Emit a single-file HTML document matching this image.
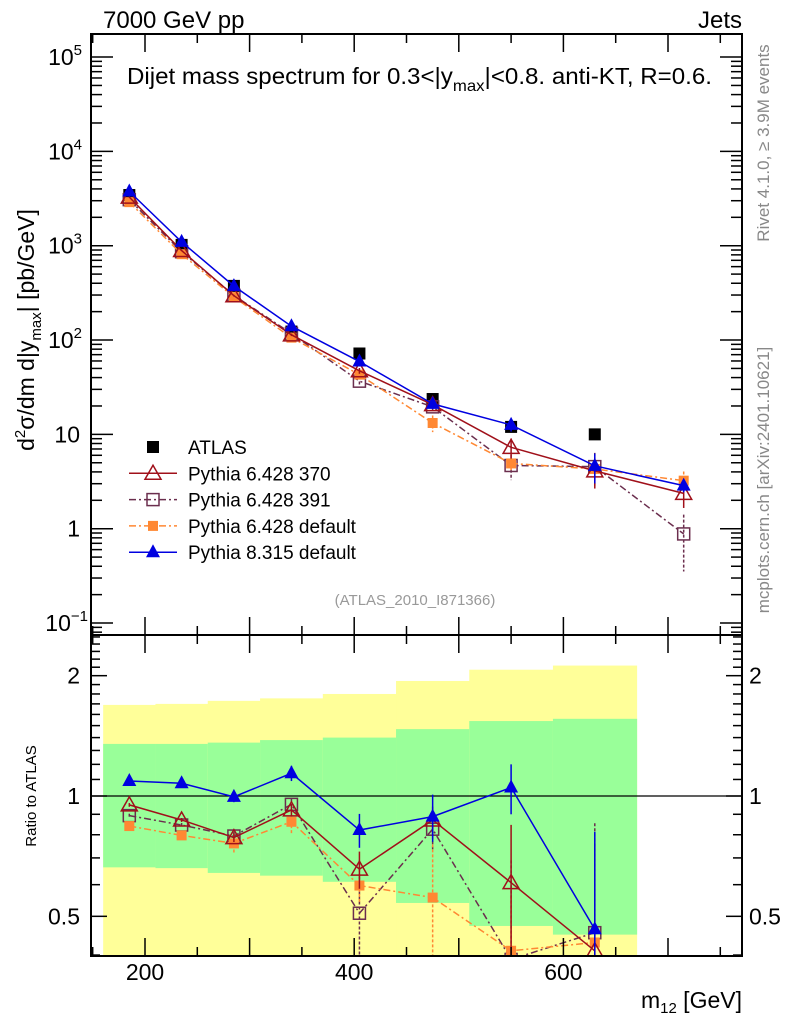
<!DOCTYPE html>
<html><head><meta charset="utf-8"><style>
html,body{margin:0;padding:0;background:#fff}
svg{display:block;font-family:"Liberation Sans",sans-serif}
</style></head><body>
<svg id="c" width="786" height="1024" viewBox="0 0 786 1024" xmlns="http://www.w3.org/2000/svg">
<text x="103" y="28" font-size="24">7000 GeV pp</text>
<text x="742" y="28" font-size="24" text-anchor="end">Jets</text>
<text x="127" y="84" font-size="23" textLength="585" lengthAdjust="spacingAndGlyphs">Dijet mass spectrum for 0.3&lt;|y<tspan font-size="16" dy="7">max</tspan><tspan dy="-7">|&lt;0.8.  anti-KT, R=0.6.</tspan></text>
<text transform="translate(34,330) rotate(-90)" font-size="23" text-anchor="middle">d<tspan font-size="15" dy="-9">2</tspan><tspan dy="9">σ/dm d|y</tspan><tspan font-size="15" dy="7">max</tspan><tspan dy="-7">| [pb/GeV]</tspan></text>
<text transform="translate(769,143) rotate(-90)" font-size="17" fill="#888" text-anchor="middle">Rivet 4.1.0, ≥ 3.9M events</text>
<text transform="translate(769,480) rotate(-90)" font-size="17" fill="#888" text-anchor="middle">mcplots.cern.ch [arXiv:2401.10621]</text>
<text x="415" y="605" font-size="15" fill="#999" text-anchor="middle">(ATLAS_2010_I871366)</text>
<text transform="translate(36,796) rotate(-90)" font-size="15" text-anchor="middle">Ratio to ATLAS</text>
<text x="742" y="1008" font-size="23" text-anchor="end">m<tspan font-size="15" dy="5">12</tspan><tspan dy="-5"> [GeV]</tspan></text>
<g id="g"></g>
</svg>
<script>
const binEdges=[160,210,260,310,370,440,510,590,670,760];
const binCenters=[185,235,285,340,405,475,550,630,715];
const atlasVals=[3445,1020,375,123,72,23.7,12,10];
const ratio370=[0.95,0.871,0.787,0.923,0.656,0.871,0.607,0.41];
const ratio391=[0.893,0.846,0.794,0.953,0.509,0.826,0.39,0.455];
const ratioDef6=[0.841,0.797,0.761,0.862,0.597,0.557,0.41,0.43];
const ratioP8=[1.09,1.076,0.995,1.14,0.822,0.888,1.05,0.464];
const last370=2.37, last391=0.88, lastDef6=3.23, lastP8=2.86;
const err370=[0.01,0.01,0.02,0.03,0.07,0.07,0.24,0.35];
const err391=[0.01,0.01,0.02,0.03,0.12,0.09,0.3,0.4];
const errDef6=[0.01,0.02,0.04,0.06,0.06,0.2,0.15,0.35];
const errP8=[0.01,0.01,0.03,0.05,0.08,0.12,0.15,0.35];
const lastErr=[0.3,0.6,0.25,0.15];
const yellowTop=[1.69,1.70,1.73,1.755,1.80,1.94,2.07,2.12];
const greenTop=[1.35,1.35,1.36,1.38,1.40,1.47,1.54,1.56];
const greenBot=[0.663,0.66,0.642,0.632,0.61,0.54,0.473,0.45];
const yellowBot=[0.3,0.3,0.3,0.3,0.3,0.3,0.3,0.3];
const xTicks=[200,400,600];
const yTopTicks=[5,4,3,2,1,0,-1];
const ratioLabels=[0.5,1,2];

(function(){
const NS='http://www.w3.org/2000/svg';
const g=document.getElementById('g');
const L=91,R=742,T1=34,B1=635,B2=956;
const X=m=>145+(m-200)*1.046;
const Y1=v=>528.7-94.33*Math.log10(v);
const Y2=r=>796-399.7*Math.log10(r);
function el(t,a,p){const e=document.createElementNS(NS,t);for(const k in a)e.setAttribute(k,a[k]);(p||g).appendChild(e);return e;}
const defs=el('defs',{});
const cp1=el('clipPath',{id:'cp1'},defs);el('rect',{x:L,y:T1,width:R-L,height:B1-T1},cp1);
const cp2=el('clipPath',{id:'cp2'},defs);el('rect',{x:L,y:B1,width:R-L,height:B2-B1},cp2);
const topG=el('g',{'clip-path':'url(#cp1)'});


const botG=el('g',{'clip-path':'url(#cp2)'});



for(let i=0;i<yellowTop.length;i++){
  const x0=X(binEdges[i]),x1=X(binEdges[i+1]);
  const y=el('rect',{x:x0,y:Y2(yellowTop[i]),width:x1-x0+0.5,height:Y2(yellowBot[i])-Y2(yellowTop[i]),fill:'#ffff99'},botG);
  
  
  const gr=el('rect',{x:x0,y:Y2(greenTop[i]),width:x1-x0+0.5,height:Y2(greenBot[i])-Y2(greenTop[i]),fill:'#99ff99'},botG);
  
  
}
const one=el('line',{x1:L,x2:R,y1:Y2(1),y2:Y2(1),stroke:'#000','stroke-width':1.2},botG);



function marker(p,type,x,y,col,name){
  let e;
  if(type==='sq') e=el('rect',{x:x-6,y:y-6,width:12,height:12,fill:col},p);
  else if(type==='osq') e=el('rect',{x:x-6,y:y-6,width:12,height:12,fill:'none',stroke:col,'stroke-width':1.5},p);
  else if(type==='fsq') e=el('rect',{x:x-5,y:y-5,width:10,height:10,fill:col},p);
  else if(type==='tri') e=el('polygon',{points:`${x},${y-8} ${x-7},${y+5} ${x+7},${y+5}`,fill:col},p);
  else e=el('polygon',{points:`${x},${y-8} ${x-8},${y+6} ${x+8},${y+6}`,fill:'none',stroke:col,'stroke-width':1.5},p);
  
  
}
const series=[
 {r:ratio391,e:err391,last:last391,le:lastErr[1],col:'#6b2e4e',dash:'7,3,2,3',m:'osq',n:'pythia6-391'},
 {r:ratioDef6,e:errDef6,last:lastDef6,le:lastErr[2],col:'#ff8833',dash:'7,3,2,3',m:'fsq',n:'pythia6-default'},
 {r:ratio370,e:err370,last:last370,le:lastErr[0],col:'#a0101a',dash:'',m:'otri',n:'pythia6-370'},
 {r:ratioP8,e:errP8,last:lastP8,le:lastErr[3],col:'#0000e0',dash:'',m:'tri',n:'pythia8-default'}
];
atlasVals.forEach((v,i)=>marker(topG,'sq',X(binCenters[i]),Y1(v),'#000','atlas-point'));
series.forEach(s=>{
  const vals=s.r.map((r,i)=>r*atlasVals[i]).concat([s.last]);
  const pts=vals.map((v,i)=>X(binCenters[i])+','+Y1(v)).join(' ');
  const ln=el('polyline',{points:pts,fill:'none',stroke:s.col,'stroke-width':1.5,'stroke-dasharray':s.dash},topG);
  
  
  vals.forEach((v,i)=>{
    const fe=i<8?s.e[i]:s.le;
    const x=X(binCenters[i]);
    const eb=el('line',{x1:x,x2:x,y1:Y1(v*(1+fe)),y2:Y1(Math.max(v*(1-fe),1e-3)),stroke:s.col,'stroke-width':1.5,'stroke-dasharray':s.dash?'3,2':''},topG);
    
    
    marker(topG,s.m,x,Y1(v),s.col,s.n+'-point');
  });
  const rp=s.r.map((r,i)=>X(binCenters[i])+','+Y2(r)).join(' ');
  const rl=el('polyline',{points:rp,fill:'none',stroke:s.col,'stroke-width':1.5,'stroke-dasharray':s.dash},botG);
  
  
  s.r.forEach((r,i)=>{
    const x=X(binCenters[i]);
    const eb=el('line',{x1:x,x2:x,y1:Y2(r+s.e[i]),y2:Y2(Math.max(r-s.e[i],0.3)),stroke:s.col,'stroke-width':1.5,'stroke-dasharray':s.dash?'3,2':''},botG);
    
    
    marker(botG,s.m,x,Y2(r),s.col,s.n+'-ratio-point');
  });
});
[[T1,B1],[B1,B2]].forEach(([a,b],k)=>{
  const f=el('rect',{x:L,y:a,width:R-L,height:b-a,fill:'none',stroke:'#000','stroke-width':2});
  
  
  for(let m=150;m<=770;m+=50){
    const x=X(m);const len=m%100===0?18:9;
    el('line',{x1:x,x2:x,y1:a,y2:a+len,stroke:'#000','stroke-width':1.5});
    el('line',{x1:x,x2:x,y1:b,y2:b-len,stroke:'#000','stroke-width':1.5});
  }
});
for(let d=-2;d<=5;d++){for(let k=1;k<10;k++){
  const y=Y1(k*Math.pow(10,d));if(y<T1||y>B1)continue;const len=k===1?22:11;
  el('line',{x1:L,x2:L+len,y1:y,y2:y,stroke:'#000','stroke-width':1.5});
  el('line',{x1:R,x2:R-len,y1:y,y2:y,stroke:'#000','stroke-width':1.5});
}}
yTopTicks.forEach(d=>{
  const t=el('text',{x:80,y:Y1(Math.pow(10,d))+8,'font-size':23,'text-anchor':'end'});
  
  
  if(d===1)t.textContent='10';else if(d===0)t.textContent='1';
  else{t.textContent='10';const s=el('tspan',{'font-size':15,dy:-10},t);s.textContent=d<0?'−1':String(d);t.setAttribute('x',d<0?88:82);}
});
for(let i=4;i<=25;i++){
  const rr=i/10;const y=Y2(rr);if(y<B1||y>B2)continue;
  const len=(i===5||i===10||i===20)?16:9;
  el('line',{x1:L,x2:L+len,y1:y,y2:y,stroke:'#000','stroke-width':1.5});
  el('line',{x1:R,x2:R-len,y1:y,y2:y,stroke:'#000','stroke-width':1.5});
}
ratioLabels.forEach(r=>{
  const a=el('text',{x:80,y:Y2(r)+8,'font-size':23,'text-anchor':'end'});a.textContent=String(r);
  
  
  const b=el('text',{x:749,y:Y2(r)+8,'font-size':23});b.textContent=String(r);
  
  
});
xTicks.forEach(m=>{
  const t=el('text',{x:X(m),y:980,'font-size':23,'text-anchor':'middle'});t.textContent=String(m);
  
  
});
const leg=[['ATLAS','sq','#000','',false],['Pythia 6.428 370','otri','#a0101a','',true],['Pythia 6.428 391','osq','#6b2e4e','7,3,2,3',true],['Pythia 6.428 default','fsq','#ff8833','7,3,2,3',true],['Pythia 8.315 default','tri','#0000e0','',true]];
leg.forEach((l,i)=>{
  const y=447+i*26.3;
  const gg=el('g',{});
  
  
  if(l[4])el('line',{x1:129,x2:177,y1:y,y2:y,stroke:l[2],'stroke-width':1.5,'stroke-dasharray':l[3]},gg);
  marker(gg,l[1],153,y,l[2],'legend-marker');
  const t=el('text',{x:188,y:y+7,'font-size':19},gg);t.textContent=l[0];
});
})();
</script>
</body></html>
